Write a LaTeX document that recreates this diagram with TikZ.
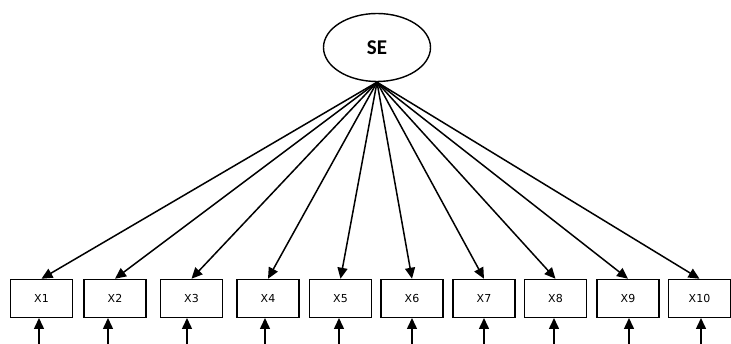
\documentclass[tikz,border=0pt]{standalone}
\usepackage{fontspec}
\setmainfont{DejaVu Sans}
\newfontfamily\sefont{Carlito}
\usetikzlibrary{arrows.meta,shapes.geometric}
\tikzset{
  obs/.style={draw, line width=1.5pt, minimum width=62pt, minimum height=38pt, inner sep=0pt, font=\fontsize{11}{13}\selectfont},
  lat/.style={draw, ellipse, line width=1.4pt, minimum width=107pt, minimum height=68pt, inner sep=0pt, font=\sefont\bfseries\fontsize{21}{23}\selectfont},
  arr/.style={line width=1.5pt, -{Triangle[length=11pt,width=10pt]}}
}
\begin{document}
\begin{tikzpicture}[x=1pt,y=-1pt]
\useasboundingbox (0,0) rectangle (731,344);
\node[lat] (se) at (377,47.5) {SE};
\foreach \i/\l/\r in {1/10/73,2/83/147,3/160/223,4/237/299,5/309/372,6/381/443,7/453/515,8/524/587,9/597/659,10/669/730}{
  \node[obs] (x\i) at ({(\l+\r)/2},298.5) {X\i};
}
\foreach \i in {1,...,10}{
  \draw[arr] (se.south) -- (x\i.north);
}
\foreach \i/\xx in {1/39,2/108,3/187,4/265,5/339,6/412,7/484,8/554,9/629,10/701}{
  \coordinate (b\i) at (\xx,345);
  \draw[arr] (b\i) -- (\xx,318);
}
\end{tikzpicture}
\end{document}
